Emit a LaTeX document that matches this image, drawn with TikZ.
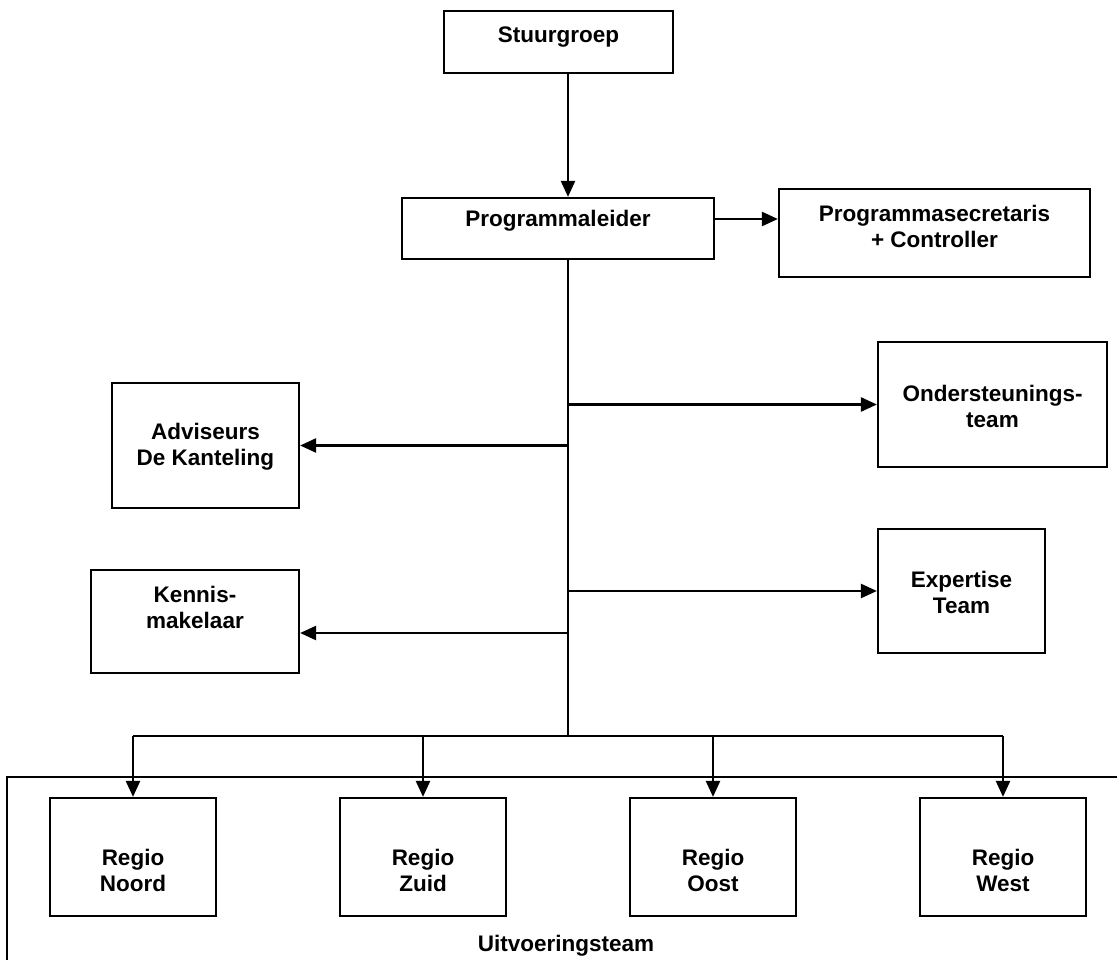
\documentclass[tikz,border=0pt]{standalone}
\usepackage{fontspec}
\setmainfont{Liberation Sans}
\usetikzlibrary{arrows.meta}
\begin{document}
\begin{tikzpicture}[x=1pt,y=-1pt,
  box/.style={draw, line width=2.2pt, inner sep=0pt},
  lbl/.style={font=\bfseries\fontsize{22.5}{26}\selectfont, align=center, inner sep=0pt},
  wire/.style={line width=2.4pt},
  conn/.style={line width=2.4pt, -{Triangle[length=16pt,width=14pt]}}]
\path[use as bounding box, clip] (0,0) rectangle (1117,960);
\fill[white] (0,0) rectangle (1117,960);
% boxes
\node[box, minimum width=229pt, minimum height=62pt] (stuur) at (558.5,42) {};
\node[box, minimum width=312pt, minimum height=61pt] (leider) at (558,228.5) {};
\node[box, minimum width=311pt, minimum height=88pt] (secr) at (934.5,233) {};
\node[box, minimum width=187pt, minimum height=125pt] (adv) at (205.5,445.5) {};
\node[box, minimum width=208pt, minimum height=103pt] (kennis) at (195,621.5) {};
\node[box, minimum width=229pt, minimum height=125pt] (onder) at (992.5,404.5) {};
\node[box, minimum width=167pt, minimum height=124pt] (expert) at (961.5,591) {};
\node[box, minimum width=166pt, minimum height=118pt] (noord) at (133,857) {};
\node[box, minimum width=166pt, minimum height=118pt] (zuid) at (423,857) {};
\node[box, minimum width=166pt, minimum height=118pt] (oost) at (713,857) {};
\node[box, minimum width=166pt, minimum height=118pt] (west) at (1003,857) {};
% labels
\node[lbl] (stuurT) at (558.5,37) {Stuurgroep};
\node[lbl] (leiderT) at (558,221) {Programmaleider};
\node[lbl] (secrT) at (934.5,226) {Programmasecretaris\\+ Controller};
\node[lbl] (advT) at (205.5,447) {Adviseurs\\De Kanteling};
\node[lbl] (kennisT) at (195,607) {Kennis-\\makelaar};
\node[lbl] (onderT) at (992.5,406) {Ondersteunings-\\team};
\node[lbl] (expertT) at (961.5,592) {Expertise\\Team};
\node[lbl] (noordT) at (133,870) {Regio\\Noord};
\node[lbl] (zuidT) at (423,870) {Regio\\Zuid};
\node[lbl] (oostT) at (713,870) {Regio\\Oost};
\node[lbl] (westT) at (1003,870) {Regio\\West};
\node[lbl] (uitT) at (566,946) {Uitvoeringsteam};
% outer frame of Uitvoeringsteam
\draw[box] (1130,777) coordinate (uitR) -- (7,777) coordinate (uitTL) -- (7,975) coordinate (uitB);
% connectors
\coordinate (j) at (568,736);
\coordinate (kA) at (568,633);
\coordinate (sA) at (714,219);
\draw[conn] (stuur.south -| j) -- (leider.north -| j);
\draw[conn] (leider.east |- sA) -- (secr.west |- sA);
\draw[wire] (leider.south -| j) -- (j);
\draw[conn] (onder.west -| j) -- (onder.west);
\draw[conn] (adv.east -| j) -- (adv.east);
\draw[conn] (expert.west -| j) -- (expert.west);
\draw[conn] (kA) -- (kA -| kennis.east);
\draw[wire] (noord |- j) -- (west |- j);
\draw[conn] (noord |- j) -- (noord.north);
\draw[conn] (zuid |- j) -- (zuid.north);
\draw[conn] (oost |- j) -- (oost.north);
\draw[conn] (west |- j) -- (west.north);
\end{tikzpicture}
\end{document}
